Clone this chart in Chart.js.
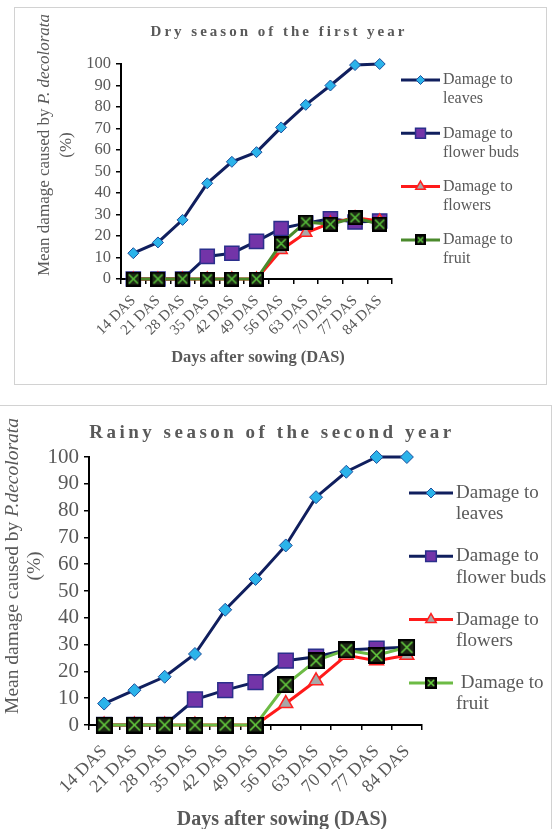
<!DOCTYPE html>
<html>
<head>
<meta charset="utf-8">
<script src="https://cdn.jsdelivr.net/npm/chart.js@4.4.0/dist/chart.umd.min.js"></script>
<style>
  html, body { margin: 0; padding: 0; background: #fff; }
  body { width: 552px; height: 829px; position: relative; overflow: hidden; }
  .box { position: absolute; border: 1px solid #d2d2d2; box-sizing: border-box; }
  canvas { position: absolute; left: 0; }
</style>
</head>
<body>
<div class="box" style="left:14px;top:7px;width:533px;height:378px"></div>
<div class="box" style="left:-2px;top:405px;width:554px;height:440px"></div>
<canvas id="dry" width="552" height="395" style="top:0;width:552px;height:395px"></canvas>
<canvas id="rainy" width="552" height="429" style="top:400px;width:552px;height:429px"></canvas>
<script>
const days = ['14 DAS', '21 DAS', '28 DAS', '35 DAS', '42 DAS', '49 DAS', '56 DAS', '63 DAS', '70 DAS', '77 DAS', '84 DAS'];
const yTicks = [0, 10, 20, 30, 40, 50, 60, 70, 80, 90, 100];

// dry season, first year
const dryLeaves = [12, 17, 27.5, 44.5, 54.5, 59, 70.5, 81, 90, 99.5, 100];
const dryBuds = [0, 0, 0, 10.5, 12, 17.5, 23.5, 26, 28, 26.5, 27];
const dryFlowers = [0, 0, 0, 0, 0, 0, 13.5, 21.5, 26, 28.5, 27];
const dryFruit = [0, 0, 0, 0, 0, 0, 16.5, 26.5, 25.5, 28.5, 25.5];

// rainy season, second year
const rainyLeaves = [8, 13, 18, 26.5, 43, 54.5, 67, 85, 94.5, 100, 100];
const rainyBuds = [0, 0, 0, 9.5, 13, 16, 24, 25.5, 28, 28.5, 29];
const rainyFlowers = [0, 0, 0, 0, 0, 0, 8, 16.5, 26, 24, 26];
const rainyFruit = [0, 0, 0, 0, 0, 0, 15, 24, 28, 26, 29];

const legendDry = [['Damage to', 'leaves'], ['Damage to', 'flower buds'], ['Damage to', 'flowers'], ['Damage to', 'fruit']];
const legendRainy = [['Damage to', 'leaves'], ['Damage to', 'flower buds'], ['Damage to', 'flowers'], [' Damage to', 'fruit']];

const SERIF = '"Liberation Serif", "Times New Roman", serif';
const GREY = '#595959';
const NAVY = '#101f5e';

function crossBox(size, cross) {
  const c = document.createElement('canvas');
  c.width = size; c.height = size;
  const g = c.getContext('2d');
  g.fillStyle = '#1c2614';
  g.fillRect(0, 0, size, size);
  g.strokeStyle = '#000';
  g.lineWidth = 2;
  g.strokeRect(1, 1, size - 2, size - 2);
  g.strokeStyle = cross;
  g.lineWidth = 1.6;
  g.beginPath();
  g.moveTo(3, 3); g.lineTo(size - 3, size - 3);
  g.moveTo(size - 3, 3); g.lineTo(3, size - 3);
  g.stroke();
  return c;
}

// titles, rotated y title and the two-line legend
const extras = {
  id: 'extras',
  afterDraw(chart, _args, o) {
    const ctx = chart.ctx;
    ctx.save();
    ctx.fillStyle = GREY;
    ctx.textBaseline = 'middle';

    ctx.font = `bold ${o.titleSize}px ${SERIF}`;
    ctx.letterSpacing = o.titleSpacing + 'px';
    ctx.textAlign = 'center';
    ctx.fillText(o.title, o.titleX, o.titleY);
    ctx.letterSpacing = '0px';

    ctx.font = `bold ${o.xTitleSize}px ${SERIF}`;
    ctx.fillText('Days after sowing (DAS)', o.xTitleX, o.xTitleY);

    // y title: plain part + italic species name
    ctx.save();
    ctx.translate(o.yTitleX, o.yTitleY);
    ctx.rotate(-Math.PI / 2);
    const plain = 'Mean damage caused by ';
    ctx.font = `${o.yTitleSize}px ${SERIF}`;
    const w1 = ctx.measureText(plain).width;
    ctx.font = `italic ${o.yTitleSize}px ${SERIF}`;
    const w2 = ctx.measureText(o.species).width;
    ctx.textAlign = 'left';
    ctx.font = `${o.yTitleSize}px ${SERIF}`;
    ctx.fillText(plain, -(w1 + w2) / 2, 0);
    ctx.font = `italic ${o.yTitleSize}px ${SERIF}`;
    ctx.fillText(o.species, -(w1 + w2) / 2 + w1, 0);
    ctx.font = `${o.yTitleSize}px ${SERIF}`;
    ctx.textAlign = 'center';
    ctx.fillText('(%)', 0, o.yTitleGap);
    ctx.restore();

    chart.data.datasets.forEach((ds, i) => {
      const y = o.legendY + i * o.legendGap;
      const x0 = o.legendX;
      ctx.strokeStyle = ds.borderColor;
      ctx.lineWidth = ds.borderWidth;
      ctx.beginPath();
      ctx.moveTo(x0, y);
      ctx.lineTo(x0 + o.legendLen, y);
      ctx.stroke();
      ctx.fillStyle = ds.pointBackgroundColor;
      ctx.strokeStyle = ds.pointBorderColor;
      ctx.lineWidth = ds.pointBorderWidth;
      Chart.helpers.drawPoint(ctx, {
        pointStyle: ds.legendPoint || ds.pointStyle,
        radius: ds.legendRadius,
        rotation: 0,
        borderWidth: ds.pointBorderWidth
      }, x0 + o.legendLen / 2, y);
      ctx.fillStyle = GREY;
      ctx.font = `${o.legendSize}px ${SERIF}`;
      ctx.textAlign = 'left';
      o.legendText[i].forEach((t, j) => ctx.fillText(t, x0 + o.legendLen + 3, y + j * o.legendLine));
    });
    ctx.restore();
  }
};

function build(id, s) {
  const canvas = document.getElementById(id);
  const H = canvas.height;
  return new Chart(canvas.getContext('2d'), {
    type: 'line',
    data: {
      labels: days,
      datasets: [
        {
          label: 'Damage to leaves', data: s.leaves, order: 3,
          borderColor: NAVY, borderWidth: 3,
          pointStyle: 'rectRot', pointRadius: s.r.leaves, pointHoverRadius: s.r.leaves,
          pointBackgroundColor: '#2bb3ea', pointBorderColor: '#1d4f9c', pointBorderWidth: 1,
          legendRadius: s.lr.leaves
        },
        {
          label: 'Damage to flower buds', data: s.buds, order: 2,
          borderColor: NAVY, borderWidth: 3,
          pointStyle: 'rect', pointRadius: s.r.buds, pointHoverRadius: s.r.buds,
          pointBackgroundColor: '#7334a8', pointBorderColor: '#2b2f8c', pointBorderWidth: 1.5,
          legendRadius: s.lr.buds
        },
        {
          label: 'Damage to flowers', data: s.flowers, order: 1,
          borderColor: '#ff1a1a', borderWidth: 3,
          pointStyle: 'triangle', pointRadius: s.r.flowers, pointHoverRadius: s.r.flowers,
          pointBackgroundColor: '#a8a8a8', pointBorderColor: '#ff2020', pointBorderWidth: 1.5,
          legendRadius: s.lr.flowers
        },
        {
          label: 'Damage to fruit', data: s.fruit, order: 0,
          borderColor: s.green, borderWidth: 3,
          pointStyle: crossBox(s.r.fruit, s.cross), pointRadius: 8, pointHoverRadius: 8,
          pointBackgroundColor: '#1c2614', pointBorderColor: '#000', pointBorderWidth: 1,
          legendPoint: crossBox(s.lr.fruit, s.cross), legendRadius: 5
        }
      ].map((d) => ({ ...d, tension: 0, clip: false, fill: false }))
    },
    options: {
      responsive: false,
      animation: false,
      events: [],
      layout: { padding: { left: 0, top: s.top, right: canvas.width - s.right, bottom: 0 } },
      plugins: {
        legend: { display: false },
        tooltip: { enabled: false },
        extras: s.extras
      },
      scales: {
        x: {
          offset: true,
          grid: { offset: true, drawOnChartArea: false, tickLength: 5, color: '#000', lineWidth: 1.5 },
          border: { color: '#000', width: 2 },
          ticks: {
            color: GREY, autoSkip: false, maxRotation: s.rot, minRotation: s.rot, padding: s.xPad,
            font: { family: SERIF, size: s.xFont }
          },
          afterFit: (scale) => { scale.height = H - s.bottom; }
        },
        y: {
          min: 0, max: 100,
          afterBuildTicks: (scale) => { scale.ticks = yTicks.map((v) => ({ value: v })); },
          grid: { drawOnChartArea: false, tickLength: 5, color: '#000', lineWidth: 1.5 },
          border: { color: '#000', width: 2 },
          ticks: { color: GREY, padding: 5, autoSkip: false, font: { family: SERIF, size: s.yFont } },
          afterFit: (scale) => { scale.width = s.left; }
        }
      }
    },
    plugins: [extras]
  });
}

build('dry', {
  leaves: dryLeaves, buds: dryBuds, flowers: dryFlowers, fruit: dryFruit,
  left: 121, right: 392, top: 64, bottom: 279,
  xFont: 15, yFont: 16.5, rot: 45, xPad: 8,
  green: '#4b8a2c', cross: '#58c23a',
  r: { leaves: 5.5, buds: 10, flowers: 7, fruit: 15 },
  lr: { leaves: 4.5, buds: 7, flowers: 5.5, fruit: 11 },
  extras: {
    title: 'Dry season of the first year', titleSize: 15, titleSpacing: 3, titleX: 279, titleY: 32,
    xTitleSize: 16.5, xTitleX: 258, xTitleY: 358,
    yTitleSize: 17, yTitleX: 45, yTitleY: 145, yTitleGap: 22, species: 'P. decolorata',
    legendX: 401, legendLen: 39, legendY: 80, legendGap: 53.3, legendLine: 19, legendSize: 16,
    legendText: legendDry
  }
});

build('rainy', {
  leaves: rainyLeaves, buds: rainyBuds, flowers: rainyFlowers, fruit: rainyFruit,
  left: 89, right: 422, top: 57, bottom: 325,
  xFont: 18, yFont: 21, rot: 45, xPad: 11,
  green: '#6dbb45', cross: '#66d040',
  r: { leaves: 6.5, buds: 10.5, flowers: 8, fruit: 17 },
  lr: { leaves: 5, buds: 7.5, flowers: 6, fruit: 12 },
  extras: {
    title: 'Rainy season of the second year', titleSize: 19, titleSpacing: 3.5, titleX: 272, titleY: 33,
    xTitleSize: 20, xTitleX: 282, xTitleY: 420,
    yTitleSize: 19.5, yTitleX: 13, yTitleY: 166, yTitleGap: 22, species: 'P.decolorata',
    legendX: 409, legendLen: 44, legendY: 93, legendGap: 63.3, legendLine: 21.5, legendSize: 19,
    legendText: legendRainy
  }
});
</script>
</body>
</html>
